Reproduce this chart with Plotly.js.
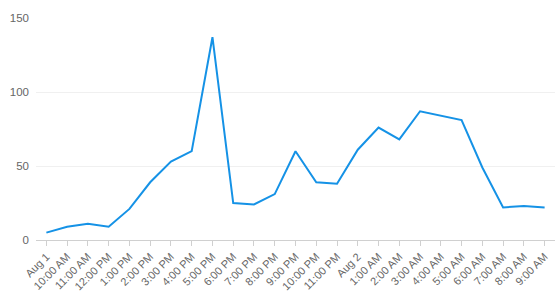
<!DOCTYPE html>
<html>
<head>
<meta charset="utf-8">
<script src="https://cdn.plot.ly/plotly-3.0.1.min.js"></script>
<style>html,body{margin:0;padding:0;background:#fff;}#chart{width:560px;height:302px;}</style>
</head>
<body>
<div id="chart"></div>
<script>
const tickLabels = ["Aug 1","10:00 AM","11:00 AM","12:00 PM","1:00 PM","2:00 PM","3:00 PM","4:00 PM","5:00 PM","6:00 PM","7:00 PM","8:00 PM","9:00 PM","10:00 PM","11:00 PM","Aug 2","1:00 AM","2:00 AM","3:00 AM","4:00 AM","5:00 AM","6:00 AM","7:00 AM","8:00 AM","9:00 AM"];
const values = [5, 9, 11, 9, 21, 39, 53, 60, 137, 25, 24, 31, 60, 39, 38, 61, 76, 68, 87, 84, 81, 49, 22, 23, 22];
const yTicks = [0, 50, 100, 150];

const xIdx = tickLabels.map((_, i) => i);

Plotly.newPlot('chart', [{
  x: xIdx,
  y: values,
  type: 'scatter',
  mode: 'lines',
  line: {color: '#1592e6', width: 2},
  hoverinfo: 'none'
}], {
  width: 560, height: 302,
  margin: {l: 36, r: 5, t: 18, b: 62},
  paper_bgcolor: '#fff', plot_bgcolor: '#fff',
  font: {family: 'Liberation Sans, Arial, sans-serif', size: 12, color: '#666'},
  showlegend: false,
  xaxis: {
    range: [-0.5, 24.5],
    tickmode: 'array', tickvals: xIdx, ticktext: tickLabels,
    tickangle: -45,
    showgrid: false, zeroline: false,
    showline: true, linecolor: '#d0d0d0', linewidth: 1,
    ticks: 'outside', ticklen: 5, tickcolor: '#d0d0d0',
    tickfont: {size: 11, color: '#666'}
  },
  yaxis: {
    range: [0, 150],
    tickmode: 'array', tickvals: yTicks,
    showgrid: true, gridcolor: '#f0f0f0', gridwidth: 1,
    zeroline: false, showline: false,
    ticks: '', ticklen: 0,
    ticklabelstandoff: 6,
    tickfont: {size: 11.5, color: '#666'}
  }
}, {displayModeBar: false, staticPlot: true});
</script>
</body>
</html>
